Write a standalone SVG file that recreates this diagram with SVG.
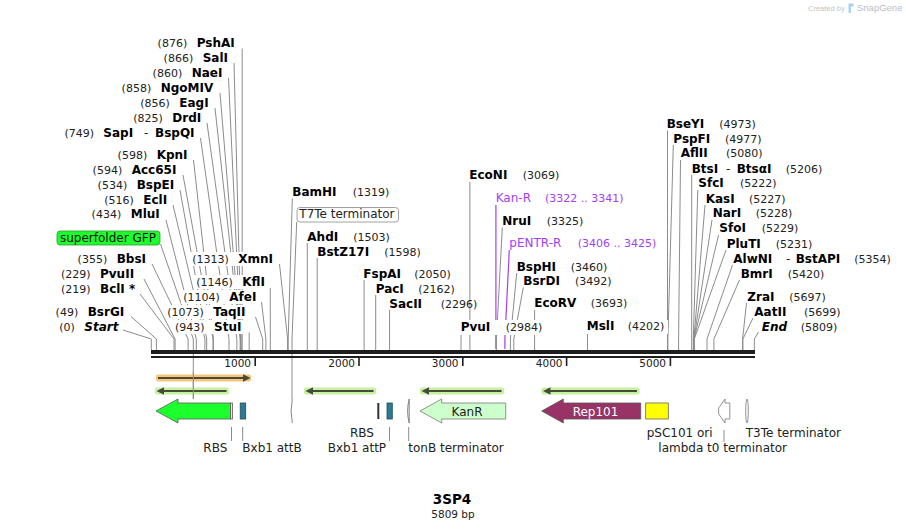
<svg xmlns="http://www.w3.org/2000/svg" width="906" height="530" viewBox="0 0 906 530">
<style>
text{font-family:"DejaVu Sans",Verdana,sans-serif}
.n{font-size:12px;font-weight:bold;fill:#000}
.ni{font-size:12px;font-weight:bold;font-style:italic;fill:#000}
.d{font-size:12px;fill:#222}
.p{font-size:11px;fill:#222}
.pr{font-size:12px;fill:#a43ef0}
.prn{font-size:11px;fill:#a43ef0}
.f{font-size:12px;fill:#222}
.ax{font-size:10.5px;fill:#222}
.c{stroke:#8c8c8c;stroke-width:1;fill:none}
.cp{stroke:#a43ef0;stroke-width:1.2;fill:none}
.bg{fill:#fff}
.fs{stroke:#5a5a5a;stroke-width:0.8}
.orfl{stroke:#4a4a3a;stroke-width:2}
.orfh{fill:#4a4a3a}
.gb{fill:#c4f2a0}
.ob{fill:#f8c57c}
</style>
<rect width="906" height="530" fill="#fff"/>

<!-- watermark -->
<g id="watermark">
<text x="808" y="11" style="font-family:'Liberation Sans',Arial,sans-serif;font-size:7.5px;fill:#c4c4c4">Created by</text>
<path d="M848.5,3.5 h5 v3 h-2.5 v6.5 h-2.5 z" fill="#a8d4f2"/>
<text x="857" y="11" style="font-family:'Liberation Sans',Arial,sans-serif;font-size:9.5px;fill:#b8bec6">SnapGene</text>
</g>

<!-- connectors -->
<g id="connectors">
<path class="c" d="M242.2,48.5V350"/>
<path class="c" d="M234,63L241.2,339V350"/>
<path class="c" d="M228.5,78L240.6,339V350"/>
<path class="c" d="M220,93L240.4,339V350"/>
<path class="c" d="M215,108L240.2,339V350"/>
<path class="c" d="M207,123L236.9,339V350"/>
<path class="c" d="M200.5,138L229,339V350"/>
<path class="c" d="M193.5,160L213.4,339V350"/>
<path class="c" d="M183,175L213,339V350"/>
<path class="c" d="M180,190L206.7,339V350"/>
<path class="c" d="M173,205L204.9,339V350"/>
<path class="c" d="M166,220L196.3,339V350"/>
<path class="c" d="M152,264L188.1,339V350"/>
<path class="c" d="M144,279L175.1,339V350"/>
<path class="c" d="M140,294L174,339V350"/>
<path class="c" d="M131,316.5L156.4,339V350"/>
<path class="c" d="M123,330L151.3,339V350"/>
<path class="c" d="M160.5,244L193.3,339V399"/>
<path class="c" d="M279.5,264L287.6,339V350"/>
<path class="c" d="M270.3,288V350"/>
<path class="c" d="M261.5,302L265.9,339V350"/>
<path class="c" d="M255.5,317L262.7,339V350"/>
<path class="c" d="M249.2,332.5V350"/>
<path class="c" d="M292.3,198.5L288.2,339V350"/>
<path class="c" d="M296.7,222L292,339V399"/>
<path class="c" d="M307.3,243V350"/>
<path class="c" d="M317.2,258V350"/>
<path class="c" d="M364.1,280V350"/>
<path class="c" d="M375.7,295V350"/>
<path class="c" d="M389.6,310V350"/>
<path class="c" d="M461,333V350"/>
<path class="c" d="M469.9,182V350"/>
<path class="cp" d="M495.9,205V349"/>
<path class="c" d="M502.3,227.5L496.4,339V350"/>
<path class="cp" d="M509.3,250L504.9,339V349"/>
<path class="c" d="M516.7,273L510.4,339V350"/>
<path class="c" d="M523.3,287.5L513.8,339V350"/>
<path class="c" d="M534.6,310V350"/>
<path class="c" d="M587.5,333V350"/>
<path class="c" d="M667.5,130.5V350"/>
<path class="c" d="M673.3,145L667.9,339V350"/>
<path class="c" d="M680.5,160L678.6,339V350"/>
<path class="c" d="M691.7,175V350"/>
<path class="c" d="M697.8,190L693.3,339V350"/>
<path class="c" d="M705,205L693.9,339V350"/>
<path class="c" d="M712,220L694,339V350"/>
<path class="c" d="M718.5,235L694.1,339V350"/>
<path class="c" d="M726,250L694.3,339V350"/>
<path class="c" d="M732.5,265L707,339V350"/>
<path class="c" d="M739.5,280L713.9,339V350"/>
<path class="c" d="M746.5,303L742.6,339V350"/>
<path class="c" d="M753,318L742.9,339V350"/>
<path class="c" d="M758.5,332L754.3,339V350"/>
<!-- feature label ticks -->
<path class="c" d="M231.5,427V441M242.7,427V441M389.5,427V441M408.7,427V441M724,430V442"/>
</g>

<!-- label backgrounds -->
<g id="label-bg">
<rect class="bg" x="190" y="252" width="87" height="14"/>
<rect class="bg" x="194" y="275" width="75" height="14"/>
<rect class="bg" x="181" y="290" width="78" height="14"/>
<rect class="bg" x="165.5" y="305" width="86" height="14"/>
<rect class="bg" x="174" y="320" width="71" height="14"/>
<rect class="bg" x="458" y="320" width="87" height="15"/>
<rect class="bg" x="584" y="320" width="84" height="14"/>
</g>

<!-- backbone -->
<g id="backbone">
<rect x="151" y="350" width="604" height="4" fill="#1e1e1e"/>
<rect x="151" y="356" width="604" height="2" fill="#1e1e1e"/>
<g fill="#1e1e1e">
<rect x="254.4" y="357" width="1.6" height="9"/>
<rect x="358.2" y="357" width="1.6" height="9"/>
<rect x="462" y="357" width="1.6" height="9"/>
<rect x="565.8" y="357" width="1.6" height="9"/>
<rect x="669.6" y="357" width="1.6" height="9"/>
</g>
<text class="ax" x="251" y="367" text-anchor="end">1000</text>
<text class="ax" x="355" y="367" text-anchor="end">2000</text>
<text class="ax" x="458.5" y="367" text-anchor="end">3000</text>
<text class="ax" x="562.5" y="367" text-anchor="end">4000</text>
<text class="ax" x="666" y="367" text-anchor="end">5000</text>
</g>

<!-- enzyme labels, left -->
<g id="PshAI"><text class="p" x="187.2" y="46.5" text-anchor="end">(876)</text><text class="n" x="196.7" y="46.5">PshAI</text></g>
<g id="SalI"><text class="p" x="193.2" y="61.5" text-anchor="end">(866)</text><text class="n" x="202.7" y="61.5">SalI</text></g>
<g id="NaeI"><text class="p" x="182.2" y="76.5" text-anchor="end">(860)</text><text class="n" x="191.7" y="76.5">NaeI</text></g>
<g id="NgoMIV"><text class="p" x="151.2" y="91.5" text-anchor="end">(858)</text><text class="n" x="160.7" y="91.5">NgoMIV</text></g>
<g id="EagI"><text class="p" x="169.8" y="106.5" text-anchor="end">(856)</text><text class="n" x="179.3" y="106.5">EagI</text></g>
<g id="DrdI"><text class="p" x="162.8" y="121.5" text-anchor="end">(825)</text><text class="n" x="172.3" y="121.5">DrdI</text></g>
<g id="SapI-BspQI"><text class="p" x="94" y="136.5" text-anchor="end">(749)</text><text class="n" x="103.3" y="136.5">SapI</text><text class="d" x="144" y="136.5">-</text><text class="n" x="155" y="136.5">BspQI</text></g>
<g id="KpnI"><text class="p" x="147.2" y="158.5" text-anchor="end">(598)</text><text class="n" x="156.7" y="158.5">KpnI</text></g>
<g id="Acc65I"><text class="p" x="122.2" y="173.5" text-anchor="end">(594)</text><text class="n" x="131.7" y="173.5">Acc65I</text></g>
<g id="BspEI"><text class="p" x="127.2" y="188.5" text-anchor="end">(534)</text><text class="n" x="136.7" y="188.5">BspEI</text></g>
<g id="EclI"><text class="p" x="133.8" y="203.5" text-anchor="end">(516)</text><text class="n" x="143.3" y="203.5">EclI</text></g>
<g id="MluI"><text class="p" x="121.2" y="218" text-anchor="end">(434)</text><text class="n" x="130.7" y="218">MluI</text></g>
<g id="BbsI"><text class="p" x="107.2" y="262.7" text-anchor="end">(355)</text><text class="n" x="116.7" y="262.7">BbsI</text></g>
<g id="PvuII"><text class="p" x="90.5" y="277.7" text-anchor="end">(229)</text><text class="n" x="100" y="277.7">PvuII</text></g>
<g id="BclI"><text class="p" x="90.5" y="292.7" text-anchor="end">(219)</text><text class="n" x="100" y="292.7">BclI *</text></g>
<g id="BsrGI"><text class="p" x="78.2" y="315.7" text-anchor="end">(49)</text><text class="n" x="87.7" y="315.7">BsrGI</text></g>
<g id="Start"><text class="p" x="74.8" y="330.7" text-anchor="end">(0)</text><text class="ni" x="84.3" y="330.7">Start</text></g>

<!-- mid-left column -->
<g id="XmnI"><text class="p" x="228.8" y="262.7" text-anchor="end">(1313)</text><text class="n" x="238.3" y="262.7">XmnI</text></g>
<g id="KflI"><text class="p" x="232.8" y="285.7" text-anchor="end">(1146)</text><text class="n" x="242.3" y="285.7">KflI</text></g>
<g id="AfeI"><text class="p" x="219.8" y="300.7" text-anchor="end">(1104)</text><text class="n" x="229.3" y="300.7">AfeI</text></g>
<g id="TaqII"><text class="p" x="203.8" y="315.7" text-anchor="end">(1073)</text><text class="n" x="213.3" y="315.7">TaqII</text></g>
<g id="StuI"><text class="p" x="204.5" y="330.7" text-anchor="end">(943)</text><text class="n" x="214" y="330.7">StuI</text></g>

<!-- feature callouts -->
<g id="superfolder-GFP-label"><rect x="57" y="231" width="103" height="14" rx="3" fill="#1cff2c" stroke="#2f9a2f" stroke-width="0.8"/><text class="d" x="60" y="241.5" style="fill:#111">superfolder GFP</text></g>
<g id="T7Te-terminator-label"><rect x="297" y="207.5" width="101.5" height="14.5" rx="3" fill="#fff" stroke="#8a8a8a" stroke-width="0.8"/><text class="d" x="299.3" y="218">T7Te terminator</text></g>

<!-- middle labels -->
<g id="BamHI"><text class="n" x="292.3" y="196">BamHI</text><text class="p" x="352.7" y="196">(1319)</text></g>
<g id="AhdI"><text class="n" x="307.3" y="240.7">AhdI</text><text class="p" x="353.3" y="240.7">(1503)</text></g>
<g id="BstZ17I"><text class="n" x="317.3" y="255.7">BstZ17I</text><text class="p" x="384.3" y="255.7">(1598)</text></g>
<g id="FspAI"><text class="n" x="363.3" y="277.7">FspAI</text><text class="p" x="414.3" y="277.7">(2050)</text></g>
<g id="PacI"><text class="n" x="375.7" y="292.7">PacI</text><text class="p" x="418.3" y="292.7">(2162)</text></g>
<g id="SacII"><text class="n" x="389.3" y="307.7">SacII</text><text class="p" x="440.7" y="307.7">(2296)</text></g>
<g id="PvuI"><text class="n" x="460.7" y="330.7">PvuI</text><text class="p" x="505.7" y="330.7">(2984)</text></g>
<g id="EcoNI"><text class="n" x="469.3" y="179.3">EcoNI</text><text class="p" x="522.7" y="179.3">(3069)</text></g>
<g id="Kan-R"><text class="pr" x="495.7" y="202.3">Kan-R</text><text class="prn" x="545" y="202.3">(3322 .. 3341)</text></g>
<g id="NruI"><text class="n" x="502.3" y="225">NruI</text><text class="p" x="546.7" y="225">(3325)</text></g>
<g id="pENTR-R"><text class="pr" x="509.3" y="247.3">pENTR-R</text><text class="prn" x="577.7" y="247.3">(3406 .. 3425)</text></g>
<g id="BspHI"><text class="n" x="516.7" y="270.7">BspHI</text><text class="p" x="570.7" y="270.7">(3460)</text></g>
<g id="BsrDI"><text class="n" x="523.3" y="285">BsrDI</text><text class="p" x="575" y="285">(3492)</text></g>
<g id="EcoRV"><text class="n" x="534.3" y="307.3">EcoRV</text><text class="p" x="590.7" y="307.3">(3693)</text></g>
<g id="MslI"><text class="n" x="586.7" y="330">MslI</text><text class="p" x="627.7" y="330">(4202)</text></g>

<!-- right labels -->
<g id="BseYI"><text class="n" x="666.7" y="127.7">BseYI</text><text class="p" x="719.3" y="127.7">(4973)</text></g>
<g id="PspFI"><text class="n" x="673.3" y="142.7">PspFI</text><text class="p" x="725" y="142.7">(4977)</text></g>
<g id="AflII"><text class="n" x="680.7" y="157.3">AflII</text><text class="p" x="726" y="157.3">(5080)</text></g>
<g id="BtsI-BtsaI"><text class="n" x="691.7" y="172.7">BtsI</text><text class="d" x="726" y="172.7">-</text><text class="n" x="736.7" y="172.7">BtsαI</text><text class="p" x="785.7" y="172.7">(5206)</text></g>
<g id="SfcI"><text class="n" x="698.3" y="187.3">SfcI</text><text class="p" x="740" y="187.3">(5222)</text></g>
<g id="KasI"><text class="n" x="705.7" y="202.7">KasI</text><text class="p" x="749" y="202.7">(5227)</text></g>
<g id="NarI"><text class="n" x="712.7" y="217.3">NarI</text><text class="p" x="755.7" y="217.3">(5228)</text></g>
<g id="SfoI"><text class="n" x="719.3" y="232.3">SfoI</text><text class="p" x="761.7" y="232.3">(5229)</text></g>
<g id="PluTI"><text class="n" x="726.7" y="247.7">PluTI</text><text class="p" x="775.7" y="247.7">(5231)</text></g>
<g id="AlwNI-BstAPI"><text class="n" x="733.3" y="262.7">AlwNI</text><text class="d" x="786" y="262.7">-</text><text class="n" x="795.7" y="262.7">BstAPI</text><text class="p" x="854.3" y="262.7">(5354)</text></g>
<g id="BmrI"><text class="n" x="740.7" y="277.7">BmrI</text><text class="p" x="787.7" y="277.7">(5420)</text></g>
<g id="ZraI"><text class="n" x="747.3" y="300.7">ZraI</text><text class="p" x="789.3" y="300.7">(5697)</text></g>
<g id="AatII"><text class="n" x="754.3" y="315.7">AatII</text><text class="p" x="804" y="315.7">(5699)</text></g>
<g id="End"><text class="ni" x="761.7" y="330.7">End</text><text class="p" x="800.7" y="330.7">(5809)</text></g>

<!-- ORF arrows -->
<g id="orf-1"><rect class="ob" x="156" y="374.5" width="95" height="7" rx="2"/><path class="orfl" d="M158,378H244"/><path class="orfh" d="M250.5,378L243,374.3V381.7Z"/></g>
<g id="orf-2"><rect class="gb" x="155" y="387.5" width="74" height="7" rx="2"/><path class="orfl" d="M162,391H226.5"/><path class="orfh" d="M156.5,391L164,387.3V394.7Z"/></g>
<g id="orf-3"><rect class="gb" x="304" y="387.5" width="72" height="7" rx="2"/><path class="orfl" d="M311,391H373.5"/><path class="orfh" d="M305.5,391L313,387.3V394.7Z"/></g>
<g id="orf-4"><rect class="gb" x="420" y="387.5" width="84" height="7" rx="2"/><path class="orfl" d="M427,391H501.5"/><path class="orfh" d="M421.5,391L429,387.3V394.7Z"/></g>
<g id="orf-5"><rect class="gb" x="541.5" y="387.5" width="98" height="7" rx="2"/><path class="orfl" d="M548.5,391H637"/><path class="orfh" d="M543,391L550.5,387.3V394.7Z"/></g>
<path class="c" d="M193.3,372V399"/>

<!-- features -->
<g id="superfolder-GFP"><path class="fs" d="M156,411L178,399V403H230.5V419H178V423Z" fill="#1cff2c"/></g>
<g id="RBS-1"><rect class="fs" x="230.5" y="403" width="2" height="16" fill="#e6e6e6"/></g>
<g id="Bxb1-attB"><rect x="240.2" y="403" width="5.5" height="16" fill="#2e7a8e" stroke="#1d4f5c" stroke-width="0.8"/></g>
<g id="T7Te-terminator"><path d="M292.3,399Q289.8,411 292.3,423" fill="none" stroke="#777" stroke-width="0.9"/></g>
<g id="RBS-2"><rect x="377.3" y="403" width="2" height="16" fill="#333"/></g>
<g id="Bxb1-attP"><rect x="387" y="403" width="5.3" height="16" fill="#2e7a8e" stroke="#1d4f5c" stroke-width="0.8"/></g>
<g id="tonB-terminator"><path d="M409.2,399V423M409.2,399Q406,411 409.2,423" fill="#fff" stroke="#777" stroke-width="0.9"/></g>
<g id="KanR"><path d="M420,411L441.7,399V403H505.7V419H441.7V423Z" fill="#ccffcc" stroke="#7a7a7a" stroke-width="0.8"/><text class="f" x="467" y="415.5" text-anchor="middle">KanR</text></g>
<g id="Rep101"><path d="M541.7,411L563.3,399V403H640.7V419H563.3V423Z" fill="#993366" stroke="#555" stroke-width="0.8"/><text class="f" x="595.5" y="415.5" text-anchor="middle" style="fill:#fff">Rep101</text></g>
<g id="pSC101-ori"><rect x="645.7" y="403" width="22.6" height="16" fill="#ffff00" stroke="#666" stroke-width="0.8"/></g>
<g id="lambda-t0-terminator"><path d="M718.7,408L725,399V403H729.8V419H725V423L718.7,414Z" fill="#fff" stroke="#777" stroke-width="0.8"/></g>
<g id="T3Te-terminator"><ellipse cx="747" cy="411" rx="1.3" ry="12" fill="#fff" stroke="#777" stroke-width="0.8"/></g>

<!-- feature labels -->
<g id="feature-labels">
<text class="f" x="203.3" y="452">RBS</text>
<text class="f" x="242.3" y="452">Bxb1 attB</text>
<text class="f" x="350" y="437">RBS</text>
<text class="f" x="327.7" y="452">Bxb1 attP</text>
<text class="f" x="408.3" y="452">tonB terminator</text>
<text class="f" x="646.7" y="437">pSC101 ori</text>
<text class="f" x="658.3" y="452">lambda t0 terminator</text>
<text class="f" x="745.7" y="437">T3Te terminator</text>
</g>

<!-- title -->
<g id="title">
<text x="452" y="503.5" text-anchor="middle" style="font-size:13.5px;font-weight:bold;fill:#000">3SP4</text>
<text x="453" y="518" text-anchor="middle" style="font-size:10.5px;fill:#222">5809 bp</text>
</g>
</svg>
